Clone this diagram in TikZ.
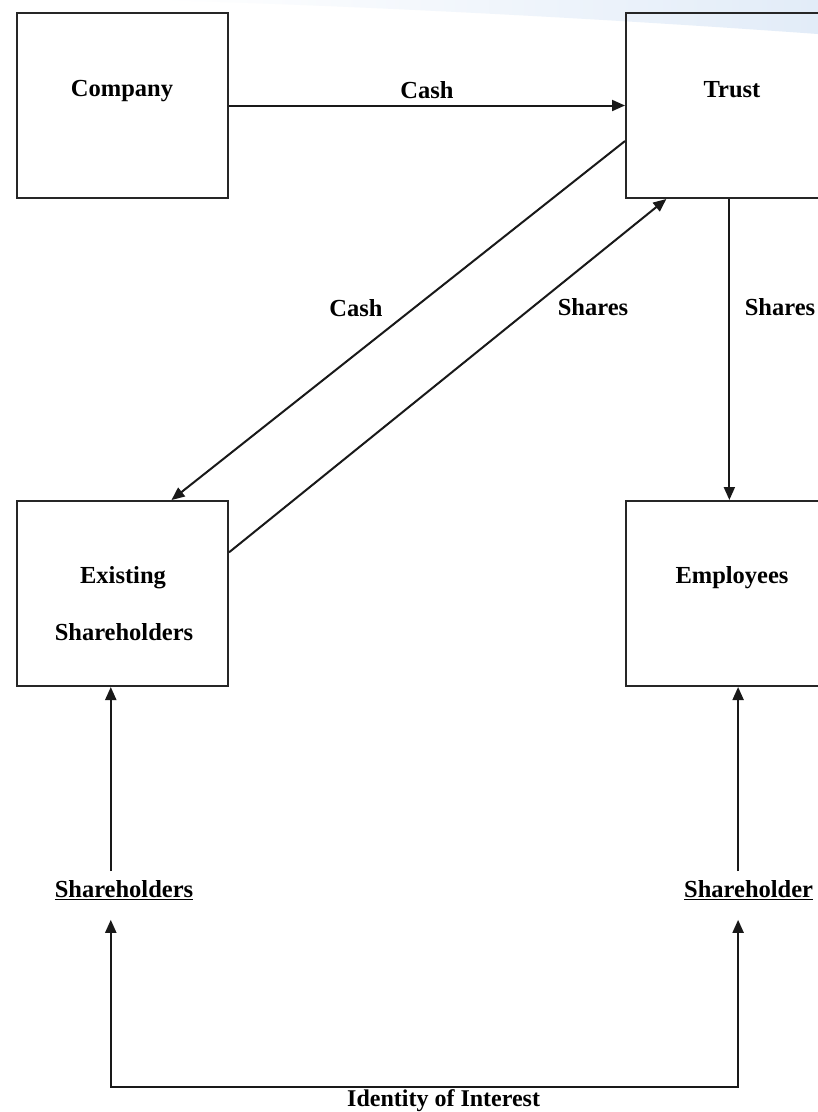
\documentclass[tikz,border=0pt]{standalone}
\usepackage{fontspec}
\setmainfont{Liberation Serif}
\usetikzlibrary{arrows.meta,calc}
\tikzset{
  box/.style={draw=black!85,line width=2pt,minimum width=211pt,minimum height=185pt,inner sep=0pt},
  lbl/.style={font=\fontsize{24.5}{28}\selectfont\bfseries,inner sep=0pt,text=black},
  arr/.style={draw=black!90,line width=2pt,-{Triangle[length=13pt,width=11pt]}},
  arrboth/.style={draw=black!90,line width=2pt,{Triangle[length=13pt,width=11pt]}-{Triangle[length=13pt,width=11pt]}},
}
\begin{document}
\begin{tikzpicture}[x=1pt,y=-1pt]
\useasboundingbox (0,0) rectangle (818,1112);
\clip (0,0) rectangle (818,1112);
\fill[white] (0,0) rectangle (818,1112);
\shade[left color=white,right color={rgb,255:red,226;green,236;blue,248}]
  (160,0) .. controls (420,8) and (650,22) .. (818,34) -- (818,0) -- cycle;
% boxes
\node[box] (company) at (122.5,105.5) {};
\node[box] (trust) at (731.5,105.5) {};
\node[box] (existing) at (122.5,593.5) {};
\node[box] (employees) at (731.5,593.5) {};
% box texts
\node[lbl] (tcompany) at (122,91) {Company};
\node[lbl] (ttrust) at (732,90) {Trust};
\node[lbl] (texist1) at (123,578) {Existing};
\node[lbl] (texist2) at (124,632) {Shareholders};
\node[lbl] (temploy) at (732,578) {Employees};
% bottom labels
\node[lbl] (sh1) at (124,890) {\underline{Shareholders}};
\node[lbl,anchor=west] (sh2) at (684,890) {\underline{Shareholder}};
% connectors
\draw[arr] (company.east) -- (trust.west)
  node[lbl,midway,above=6pt] (lcash1) {Cash};
\coordinate (c1) at ($(trust.north west)!0.69!(trust.south west)$);
\coordinate (c2) at ($(existing.north west)!0.73!(existing.north east)$);
\draw[arr] (c1) -- (c2);
\coordinate (s1) at ($(existing.north east)!0.28!(existing.south east)$);
\coordinate (s2) at ($(trust.south west)!0.194!(trust.south east)$);
\draw[arr] (s1) -- (s2);
\coordinate (t1) at ($(trust.south west)!0.49!(trust.south east)$);
\draw[arr] (t1) -- (t1 |- employees.north);
\node[lbl] (lcash2) at (356,308) {Cash};
\node[lbl] (lshares1) at (593,307) {Shares};
\node[lbl] (lshares2) at (780,307) {Shares};
% shareholders -> boxes
\coordinate (e1) at ($(existing.south west)!0.445!(existing.south east)$);
\coordinate (e2) at ($(employees.south west)!0.531!(employees.south east)$);
\draw[arr] ($(e1 |- sh1.north)+(0,-9)$) -- (e1);
\draw[arr] ($(e2 |- sh2.north)+(0,-9)$) -- (e2);
% identity of interest
\coordinate (b1) at ($(e1 |- sh1.south)+(0,20)$);
\coordinate (b2) at ($(e2 |- sh2.south)+(0,20)$);
\coordinate (bl) at (e1 |- 0,1087);
\coordinate (br) at (e2 |- 0,1087);
\draw[arrboth] (b1) -- (bl) -- (br) -- (b2);
\node[lbl,font=\fontsize{24}{28}\selectfont\bfseries,anchor=base west] (ident) at (347,1106.5) {Identity of Interest};
\end{tikzpicture}
\end{document}
